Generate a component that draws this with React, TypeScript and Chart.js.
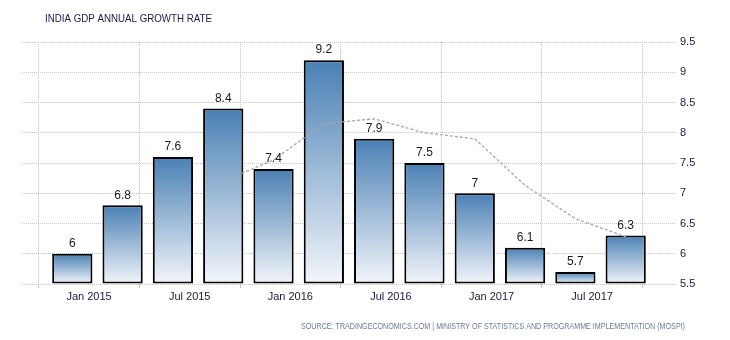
import React, { useEffect, useRef } from "react";
import { Chart, registerables } from "chart.js";

Chart.register(...registerables);

// Quarterly data (bar dates, in months from Dec 2014)
const quarters = [
  "Dec 2014", "Mar 2015", "Jun 2015", "Sep 2015", "Dec 2015", "Mar 2016",
  "Jun 2016", "Sep 2016", "Dec 2016", "Mar 2017", "Jun 2017", "Sep 2017",
];
const quarterMonths = [0, 3, 6, 9, 12, 15, 18, 21, 24, 27, 30, 33];
const growth = [6, 6.8, 7.6, 8.4, 7.4, 9.2, 7.9, 7.5, 7, 6.1, 5.7, 6.3];
const trend = [null, null, null, 7.2, 7.55, 8.15, 8.23, 8.0, 7.9, 7.13, 6.58, 6.28];

const tickMonths = [1, 7, 13, 19, 25, 31];
const tickLabels = ["Jan 2015", "Jul 2015", "Jan 2016", "Jul 2016", "Jan 2017", "Jul 2017"];
const yTicks = [5.5, 6, 6.5, 7, 7.5, 8, 8.5, 9, 9.5];

const TITLE = "INDIA GDP ANNUAL GROWTH RATE";
const SOURCE =
  "SOURCE: TRADINGECONOMICS.COM | MINISTRY OF STATISTICS AND PROGRAMME IMPLEMENTATION (MOSPI)";

const FONT = "'Liberation Sans', Arial, sans-serif";

export default function App() {
  const ref = useRef<HTMLCanvasElement | null>(null);

  useEffect(() => {
    if (!ref.current) return;

    const textPlugin = {
      id: "texts",
      beforeDraw(chart: any) {
        const c = chart.ctx;
        c.save();
        c.fillStyle = "#ffffff";
        c.fillRect(0, 0, chart.width, chart.height);
        c.restore();
      },
      afterDraw(chart: any) {
        const c = chart.ctx;
        c.save();
        c.fillStyle = "#1a1a48";
        c.font = `11px ${FONT}`;
        c.textAlign = "left";
        c.textBaseline = "alphabetic";
        c.fillText(TITLE, 45, 22, 167);
        c.fillStyle = "#6b7a99";
        c.font = `8.5px ${FONT}`;
        c.fillText(SOURCE, 301, 329, 384);
        c.restore();
      },
      afterDatasetsDraw(chart: any) {
        const c = chart.ctx;
        const meta = chart.getDatasetMeta(1);
        c.save();
        c.fillStyle = "#1a1a1a";
        c.font = `12px ${FONT}`;
        c.textAlign = "center";
        c.textBaseline = "bottom";
        meta.data.forEach((el: any, i: number) => {
          c.fillText(String(growth[i]), el.x, el.y - 4);
        });
        c.restore();
      },
    };

    const chart = new Chart(ref.current, {
      type: "bar",
      data: {
        labels: quarters,
        datasets: [
          {
            type: "line",
            label: "trend",
            data: quarterMonths.map((m, i) => ({ x: m, y: trend[i] })),
            borderColor: "#a8a8a8",
            borderWidth: 1.3,
            borderDash: [3, 2],
            pointRadius: 0,
            fill: false,
            tension: 0,
            spanGaps: false,
            order: -1,
          } as any,
          {
            type: "bar",
            label: "GDP growth",
            data: quarterMonths.map((m, i) => ({ x: m, y: growth[i] })),
            base: 5.5,
            borderColor: "#000000",
            borderWidth: 2,
            borderSkipped: false,
            barPercentage: 0.8,
            categoryPercentage: 1,
            backgroundColor: (ctx: any) => {
              const ch = ctx.chart;
              const ys = ch.scales && ch.scales.y;
              if (!ch.chartArea || !ys || ctx.type !== "data") return "#4a80b4";
              const v = growth[ctx.dataIndex];
              const top = ys.getPixelForValue(v);
              const bottom = ys.getPixelForValue(5.5);
              const g = ch.ctx.createLinearGradient(0, top, 0, bottom);
              g.addColorStop(0, "#4a80b4");
              g.addColorStop(1, "#f3f6fb");
              return g;
            },
            order: 5,
          } as any,
        ],
      },
      options: {
        animation: false,
        responsive: false,
        maintainAspectRatio: false,
        layout: { padding: { left: 22, top: 42, right: 0, bottom: 0 } },
        plugins: {
          legend: { display: false },
          tooltip: { enabled: false },
          title: { display: false },
        },
        scales: {
          x: {
            type: "linear",
            min: -3,
            max: 36,
            offset: false,
            afterBuildTicks: (scale: any) => {
              scale.ticks = tickMonths.map((v) => ({ value: v }));
            },
            afterFit: (scale: any) => {
              scale.height = 56;
            },
            ticks: {
              autoSkip: false,
              maxRotation: 0,
              padding: 2,
              color: "#1a1a40",
              font: { family: FONT, size: 11 },
              callback: (value: any) => {
                const idx = tickMonths.indexOf(Number(value));
                return idx >= 0 ? tickLabels[idx] : "";
              },
            },
            grid: {
              color: "#c4c4c4",
              lineWidth: 1,
              drawTicks: true,
              tickLength: 4,
            },
            border: { display: false, dash: [1, 1] },
          },
          y: {
            type: "linear",
            position: "right",
            min: 5.5,
            max: 9.5,
            afterBuildTicks: (scale: any) => {
              scale.ticks = yTicks.map((v) => ({ value: v }));
            },
            afterFit: (scale: any) => {
              scale.width = 54;
            },
            ticks: {
              padding: 4,
              color: "#1a1a40",
              font: { family: FONT, size: 11 },
              callback: (value: any) => String(Number(value)),
            },
            grid: {
              color: "#c4c4c4",
              lineWidth: 1,
              drawTicks: false,
            },
            border: { display: false, dash: [1, 1] },
          },
        },
      } as any,
      plugins: [textPlugin],
    });

    return () => chart.destroy();
  }, []);

  return (
    <div style={{ position: "fixed", left: 0, top: 0, width: 730, height: 340, background: "#fff" }}>
      <canvas ref={ref} width={730} height={340} style={{ display: "block", width: 730, height: 340 }} />
    </div>
  );
}
